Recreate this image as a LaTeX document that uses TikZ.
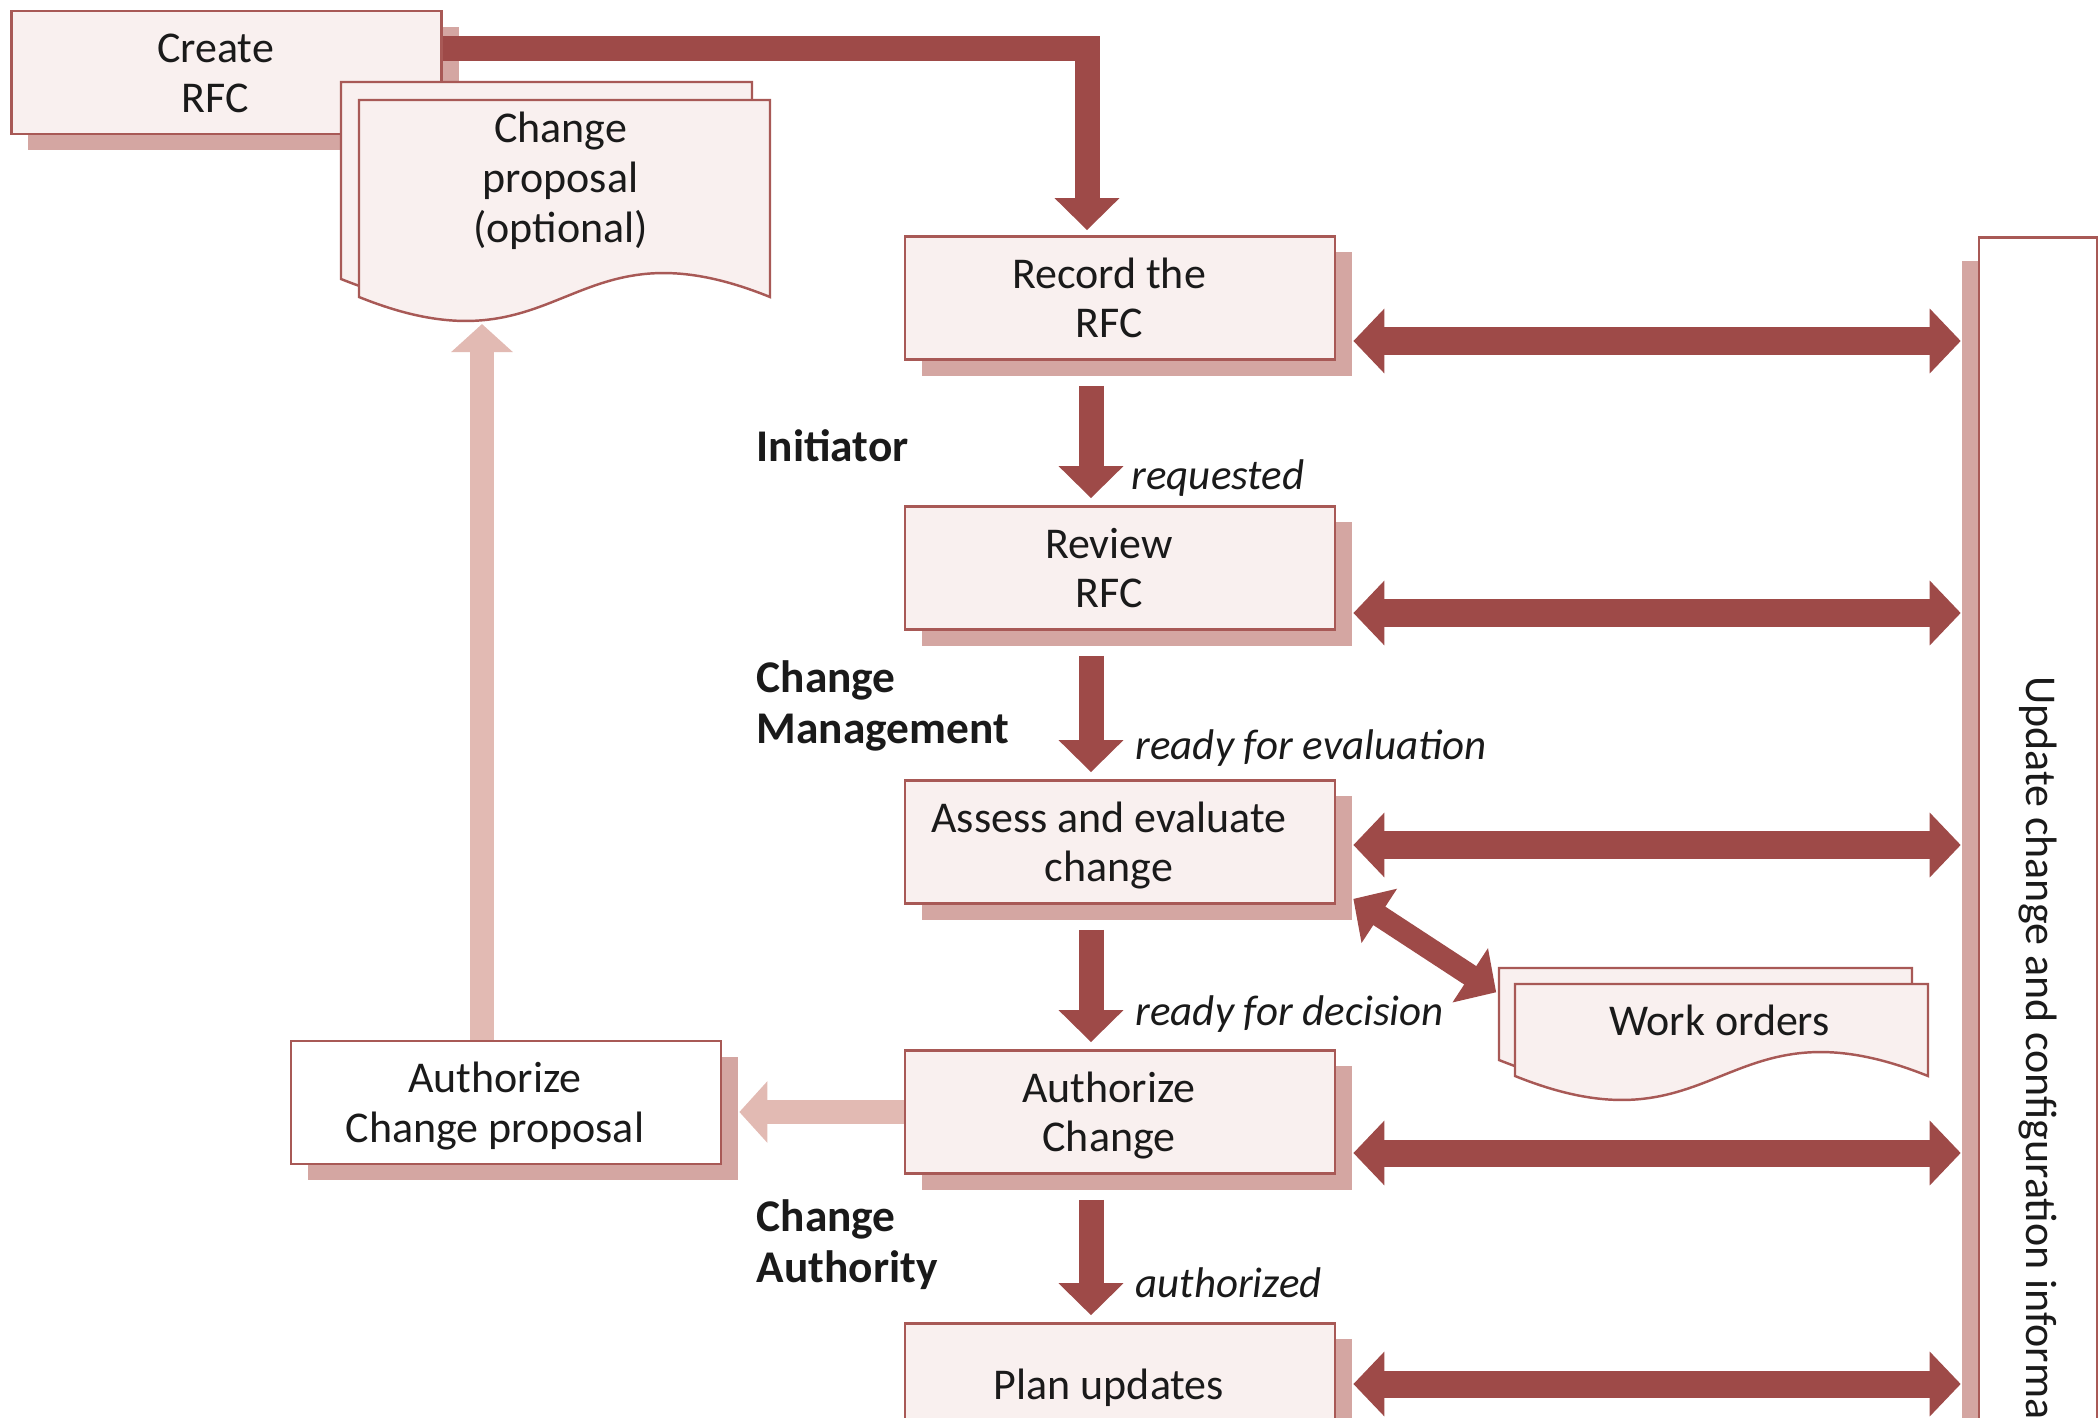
\documentclass[tikz,border=0pt]{standalone}
\usepackage{fontspec}
\setmainfont{Carlito}
\usepackage{graphicx}
\usetikzlibrary{arrows.meta,shadows,calc}
\definecolor{darkred}{HTML}{9E4A48}
\definecolor{boxline}{HTML}{A85956}
\definecolor{boxfill}{HTML}{F9F0EF}
\definecolor{shadowpink}{HTML}{D4A6A2}
\definecolor{lightred}{HTML}{E2BAB3}
\definecolor{ink}{HTML}{1A1A1A}
\newcommand{\tasktext}[1]{\raisebox{-0.05cm}[\height][\depth]{\begin{tabular}{@{}c@{\hspace{0.22cm}}}#1\end{tabular}}}
\begin{document}
\begin{tikzpicture}
[x=0.01cm, y=-0.01cm, font=\fontsize{12.5}{14.2}\selectfont, text=ink]
\tikzstyle{task}=[draw=boxline, fill=boxfill, line width=0.7pt, minimum width=4.3cm, minimum height=1.21cm]
\tikzstyle{lifted}=[task, drop shadow={fill=shadowpink, opacity=1, shadow xshift=0.17cm, shadow yshift=-0.16cm}]
\tikzstyle{doc}=[draw=boxline, fill=boxfill, line width=0.7pt]
\tikzstyle{role}=[anchor=west, align=left, inner xsep=0pt, font=\fontsize{12.9}{14.5}\selectfont\bfseries]
\tikzstyle{state}=[anchor=base west, inner xsep=0pt, font=\fontsize{12.2}{14.2}\selectfont\itshape]
\tikzstyle{flow}=[darkred, line width=0.25cm, -{Triangle[width=0.63cm, length=0.32cm]}]
\tikzstyle{sync}=[darkred, line width=0.27cm, {Triangle[width=0.63cm, length=0.31cm]}-{Triangle[width=0.63cm, length=0.31cm]}]
\tikzstyle{back}=[lightred, line width=0.24cm, -{Triangle[width=0.6cm, length=0.28cm]}]

\clip (0,0) rectangle (2099,1418);

\node[lifted]	(Create)	at (226.5,72.5)	{\tasktext{Create\\RFC}};
\foreach \d in {18,0}
  \draw[doc] (359-\d,100-\d) -- (770-\d,100-\d) -- (770-\d,297-\d) .. controls (565-\d,214-\d) and (565-\d,380-\d) .. (359-\d,297-\d) -- cycle;
\node[align=center]	(Proposal)	at (560.5,181)	{Change\\proposal\\(optional)};
\coordinate	(PropTip)	at (482,324);

\node[lifted]	(Record)	at (1120,298)	{\tasktext{Record the\\RFC}};
\node[lifted]	(Review)	at (1120,568)	{\tasktext{Review\\RFC}};
\node[lifted]	(Assess)	at (1120,842)	{\tasktext{Assess and evaluate\\change}};
\node[lifted]	(AuthChange)	at (1120,1112)	{\tasktext{Authorize\\Change}};
\node[lifted]	(Plan)	at (1120,1384)	{\tasktext{Plan updates}};
\node[lifted, fill=white]	(ProposalAuth)	at (506,1102.5)	{\tasktext{Authorize\\Change proposal}};

\foreach \d in {16,0}
  \draw[doc] (1515-\d,984-\d) -- (1928-\d,984-\d) -- (1928-\d,1076-\d) .. controls (1721-\d,993-\d) and (1721-\d,1159-\d) .. (1515-\d,1076-\d) -- cycle;
\node[minimum width=4.13cm, minimum height=0.72cm]	(Work)	at (1719.5,1020)	{Work orders};

\node[task, fill=white, minimum width=1.18cm, minimum height=16.9cm, drop shadow={fill=shadowpink, opacity=1, shadow xshift=-0.17cm, shadow yshift=-0.23cm}]	(Update)	at (2038,1083)	{\rotatebox{-90}{Update change and configuration information}};

\node[role]	(Initiator)	at (756,446)	{Initiator};
\node[role]	(Management)	at (756,706)	{Change\\Management};
\node[role]	(Authority)	at (756,1245)	{Change\\Authority};
\node[state]	(Requested)	at (1131,489)	{requested};
\node[state]	(ForEvaluation)	at (1135,759)	{ready for evaluation};
\node[state]	(ForDecision)	at (1135,1025)	{ready for decision};
\node[state]	(Authorized)	at (1135,1297)	{authorized};

\draw[flow, line join=miter] ($(Create.east)+(0,-24)$) -| ($(Record.north)+(-33,-5)$);
\foreach \a/\b in {Record/Review, Review/Assess, Assess/AuthChange, AuthChange/Plan}
  \draw[flow] ($(\a.south)+(-29,25)$) -- ($(\b.north)+(-29,-7)$);
\foreach \n/\dy in {Record/43, Review/45, Assess/3, AuthChange/41, Plan/0}
  \draw[sync] ($(\n.east)+(17,\dy)$) -- ($(Update.west |- \n.east)+(-17,\dy)$);
\draw[sync, line width=0.22cm] ($(Assess.south east)+(17,-6)$) -- ($(Work.north west)+(-16,9)$);

\draw[back] ($(ProposalAuth.north)+(-24,0)$) -- (PropTip);
\draw[back] (AuthChange.west) -- ($(ProposalAuth.east |- AuthChange.west)+(17,0)$);
\end{tikzpicture}
\end{document}
